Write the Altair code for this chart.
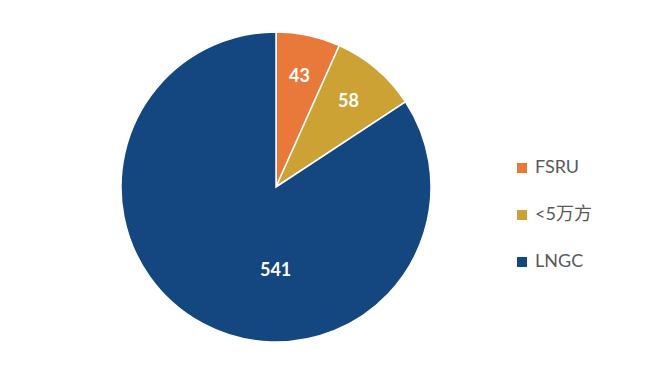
import altair as alt
import pandas as pd

categories = ["FSRU", "<5万方", "LNGC"]
values = [43, 58, 541]
colors = ["#E8793A", "#CDA234", "#14467F"]

df = pd.DataFrame({"cat": categories, "val": values, "ord": [0, 1, 2]})

CX, CY, R = 268, 179, 155

base = alt.Chart(df).encode(
    theta=alt.Theta("val:Q", stack=True),
    order=alt.Order("ord:Q"),
)

pie = base.mark_arc(outerRadius=R, stroke="white", strokeWidth=1.5).encode(
    x=alt.value(CX), y=alt.value(CY),
    color=alt.Color(
        "cat:N",
        scale=alt.Scale(domain=categories, range=colors),
        sort=categories,
        legend=alt.Legend(
            title=None, orient="none", legendX=505, legendY=151,
            symbolType="square", symbolSize=100, symbolStrokeWidth=0,
            labelFont="Lato, Noto Sans CJK SC", labelFontSize=18,
            labelColor="#595959", rowPadding=29, labelOffset=4,
        ),
    ),
)

small = base.transform_calculate(
    lab="datum.cat != 'LNGC' ? datum.val : ''"
).mark_text(
    radius=112, font="Lato", fontWeight="bold", fontSize=18, color="white"
).encode(x=alt.value(CX), y=alt.value(CY), text="lab:N")

big = base.transform_calculate(
    lab="datum.cat == 'LNGC' ? datum.val : ''"
).mark_text(
    radius=83, dx=39, dy=11, font="Lato", fontWeight="bold", fontSize=18, color="white"
).encode(x=alt.value(CX), y=alt.value(CY), text="lab:N")

chart = (
    alt.layer(pie, small, big)
    .properties(width=654, height=364, autosize=alt.AutoSizeParams(type="none"), padding=0, background="white")
    .configure_view(stroke=None)
)

chart.save("out.html", embed_options={"renderer": "svg", "actions": False})
